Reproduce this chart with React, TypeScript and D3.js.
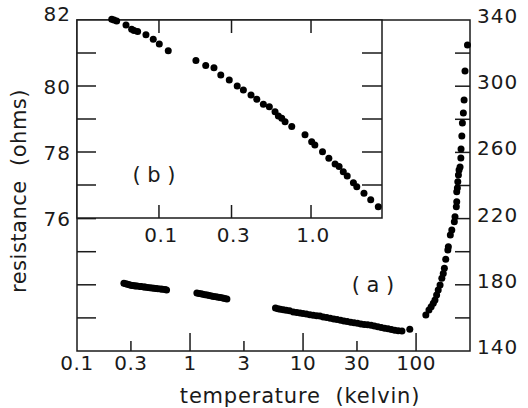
import { useEffect, useRef } from 'react';
import * as d3 from 'd3';

// curve (a): temperature (K) and resistance (ohms)
const mainT = [
    0.26, 0.27, 0.28, 0.29, 0.30, 0.31, 0.32, 0.33, 0.34, 0.36, 0.37, 0.39, 0.40, 0.42, 0.44, 0.46, 0.48, 0.50,
    0.52, 0.55, 0.57, 0.60, 0.62,
    1.15, 1.2, 1.25, 1.3, 1.36, 1.42, 1.48, 1.55, 1.62, 1.7, 1.78, 1.86, 1.95, 2.03, 2.12,
    5.7, 6.0, 6.3, 6.7, 7.1, 7.6, 8.2, 8.8, 9.4, 10.0, 10.7, 11.5, 12.3, 13.2, 14.1, 15.1, 16.2, 17.4, 18.7, 20.0,
    21.5, 23.0, 24.6, 26.4, 28.3, 30.3, 32.5, 34.8, 37.3, 40.0, 42.8, 45.9, 49.2, 52.7, 56.5, 60.5, 64.8, 69.5,
    75, 88,
    122, 130, 136, 142, 147, 152, 157, 163, 169, 174, 178, 183, 191, 193, 201, 207, 218, 221, 227, 229, 229, 232,
    234, 237, 240, 245, 249, 250, 254, 257, 262, 266, 271, 285,
];
const mainR = [
    181.0, 180.6, 180.3, 180.0, 179.8, 179.6, 179.5, 179.3, 179.2, 179.0, 178.9, 178.7, 178.6, 178.4, 178.2, 178.0,
    177.9, 177.7, 177.6, 177.4, 177.3, 177.1, 176.9,
    175.0, 174.8, 174.6, 174.3, 174.0, 173.8, 173.5, 173.3, 173.0, 172.8, 172.5, 172.3, 172.0, 171.7, 171.4,
    166.0, 165.6, 165.3, 165.0, 164.6, 164.3, 163.6, 163.3, 163.0, 162.6, 162.3, 161.9, 161.6, 161.3, 161.1, 160.6,
    160.2, 159.8, 159.4, 159.0, 158.6, 158.1, 157.8, 157.4, 157.0, 156.7, 156.3, 156.0, 155.8, 155.5, 155.1, 154.6,
    154.2, 153.8, 153.4, 153.0, 152.6, 152.3, 152.1, 153.2,
    161.8, 164.8, 166.8, 168.8, 170.8, 173.8, 176.9, 179.9, 183.9, 186.9, 190.0, 195.4, 201.0, 203.0, 210.1, 213.1,
    218.1, 221.1, 227.2, 230.2, 236.2, 238.5, 242.3, 246.3, 249.4, 251.2, 256.6, 262.0, 269.9, 277.8, 283.8, 291.7,
    309.2, 324.9,
];

// inset (b)
const insetT = [
    0.0489, 0.0506, 0.0527, 0.0607, 0.0661, 0.0685, 0.0724, 0.0821, 0.0917, 0.1005, 0.1151,
    0.175, 0.203, 0.230, 0.255, 0.290, 0.327, 0.359, 0.403, 0.440, 0.486, 0.532, 0.580, 0.610, 0.642, 0.675, 0.747,
    0.913, 1.01, 1.06, 1.19, 1.31, 1.44, 1.53, 1.63, 1.73, 1.90, 2.0, 2.23, 2.47, 2.77,
];
const insetR = [
    82.02, 82.0, 81.97, 81.85, 81.72, 81.68, 81.65, 81.55, 81.42, 81.27, 81.07,
    80.77, 80.62, 80.55, 80.33, 80.18, 80.0, 79.88, 79.73, 79.6, 79.45, 79.37, 79.22, 79.09, 79.02, 78.92, 78.77,
    78.52, 78.31, 78.21, 78.01, 77.81, 77.64, 77.56, 77.4, 77.27, 77.07, 76.95, 76.75, 76.55, 76.34,
];

const xTicks = [0.1, 0.3, 1, 3, 10, 30, 100];
const xTickLabels = ['0.1', '0.3', '1', '3', '10', '30', '100'];
const yTicks = [140, 160, 180, 200, 220, 240, 260, 280, 300, 320, 340];
const yTickLabels = [140, 180, 220, 260, 300, 340];
const insetXTicks = [0.1, 0.3, 1.0];
const insetXTickLabels = ['0.1', '0.3', '1.0'];
const insetYTicks = [76, 77, 78, 79, 80, 81, 82];
const insetYTickLabels = [76, 78, 80, 82];

const W = 528;
const H = 408;
const FONT = '"DejaVu Sans", sans-serif';
const INK = '#1a1a1a';

const App = () => {
    const svgRef = useRef<SVGSVGElement>(null);

    useEffect(() => {
        const svg = d3.select(svgRef.current);
        svg.selectAll('*').remove();

        const x = d3.scaleLog().domain([0.1, 300]).range([77, 470]);
        const y = d3.scaleLinear().domain([140, 340]).range([351, 20]);
        const xi = d3.scaleLog().domain([0.0289, 2.93]).range([77, 382]);
        const yi = d3.scaleLinear().domain([76, 82]).range([218, 20]);

        const [x0, x1] = x.range();
        const [y0, y1] = y.range();

        // main frame
        svg.append('rect')
            .attr('x', x0)
            .attr('y', y1)
            .attr('width', x1 - x0)
            .attr('height', y0 - y1)
            .attr('fill', 'none')
            .attr('stroke', INK)
            .attr('stroke-width', 1.5);

        // bottom ticks (decades longer)
        svg.selectAll('.xtick')
            .data(xTicks.slice(1))
            .enter()
            .append('line')
            .attr('x1', (d) => x(d))
            .attr('x2', (d) => x(d))
            .attr('y1', y0)
            .attr('y2', (d) => y0 - (Number.isInteger(Math.log10(d)) ? 18 : 10))
            .attr('stroke', INK)
            .attr('stroke-width', 1.5);

        svg.selectAll('.xlabel')
            .data(xTicks)
            .enter()
            .append('text')
            .attr('x', (d) => x(d))
            .attr('y', 370)
            .attr('text-anchor', 'middle')
            .attr('font-family', FONT)
            .attr('font-size', 20)
            .attr('letter-spacing', 0.5)
            .attr('fill', INK)
            .text((d, i) => xTickLabels[i]);

        // right axis
        svg.selectAll('.rtick')
            .data(yTicks.slice(1, -1))
            .enter()
            .append('line')
            .attr('x1', x1)
            .attr('x2', x1 - 15)
            .attr('y1', (d) => y(d))
            .attr('y2', (d) => y(d))
            .attr('stroke', INK)
            .attr('stroke-width', 1.5);

        svg.selectAll('.rlabel')
            .data(yTickLabels)
            .enter()
            .append('text')
            .attr('x', x1 + 7)
            .attr('y', (d) => y(d) - 4)
            .attr('dominant-baseline', 'central')
            .attr('font-family', FONT)
            .attr('font-size', 20)
            .attr('letter-spacing', 1)
            .attr('fill', INK)
            .text((d) => d);

        // left ticks of the main frame
        svg.selectAll('.ltick')
            .data(yTicks.slice(1, -1))
            .enter()
            .append('line')
            .attr('x1', x0)
            .attr('x2', x0 + 19)
            .attr('y1', (d) => y(d))
            .attr('y2', (d) => y(d))
            .attr('stroke', INK)
            .attr('stroke-width', 1.5);

        // inset box
        const [ix0, ix1] = xi.range();
        const [iy0, iy1] = yi.range();
        svg.append('rect')
            .attr('x', ix0)
            .attr('y', iy1)
            .attr('width', ix1 - ix0)
            .attr('height', iy0 - iy1)
            .attr('fill', '#fff')
            .attr('stroke', INK)
            .attr('stroke-width', 1.5);

        svg.selectAll('.itickx')
            .data(insetXTicks)
            .enter()
            .append('g')
            .each(function (d) {
                const g = d3.select(this);
                g.append('line')
                    .attr('x1', xi(d))
                    .attr('x2', xi(d))
                    .attr('y1', iy1)
                    .attr('y2', iy1 + 13)
                    .attr('stroke', INK)
                    .attr('stroke-width', 1.5);
                g.append('line')
                    .attr('x1', xi(d))
                    .attr('x2', xi(d))
                    .attr('y1', iy0)
                    .attr('y2', iy0 - 13)
                    .attr('stroke', INK)
                    .attr('stroke-width', 1.5);
            });

        svg.selectAll('.ilabelx')
            .data(insetXTicks)
            .enter()
            .append('text')
            .attr('x', (d) => xi(d) + 2)
            .attr('y', 242)
            .attr('text-anchor', 'middle')
            .attr('font-family', FONT)
            .attr('font-size', 20)
            .attr('letter-spacing', 0.5)
            .attr('fill', INK)
            .text((d, i) => insetXTickLabels[i]);

        svg.selectAll('.iticky')
            .data(insetYTicks.slice(1, -1))
            .enter()
            .append('g')
            .each(function (d) {
                const g = d3.select(this);
                g.append('line')
                    .attr('x1', ix0)
                    .attr('x2', ix0 + 19)
                    .attr('y1', yi(d))
                    .attr('y2', yi(d))
                    .attr('stroke', INK)
                    .attr('stroke-width', 1.5);
                g.append('line')
                    .attr('x1', ix1)
                    .attr('x2', ix1 - 20)
                    .attr('y1', yi(d))
                    .attr('y2', yi(d))
                    .attr('stroke', INK)
                    .attr('stroke-width', 1.5);
            });

        svg.selectAll('.ilabely')
            .data(insetYTickLabels)
            .enter()
            .append('text')
            .attr('x', ix0 - 6)
            .attr('y', (d) => yi(d) + (d === 82 ? -6 : 1))
            .attr('text-anchor', 'end')
            .attr('dominant-baseline', 'central')
            .attr('font-family', FONT)
            .attr('font-size', 20)
            .attr('letter-spacing', 1)
            .attr('fill', INK)
            .text((d) => d);

        // data points
        svg.selectAll('.dot')
            .data(mainT)
            .enter()
            .append('circle')
            .attr('cx', (d) => x(d))
            .attr('cy', (d, i) => y(mainR[i]))
            .attr('r', 3.5)
            .attr('fill', '#000');

        svg.selectAll('.idot')
            .data(insetT)
            .enter()
            .append('circle')
            .attr('cx', (d) => xi(d))
            .attr('cy', (d, i) => yi(insetR[i]))
            .attr('r', 3.5)
            .attr('fill', '#000');

        // panel labels
        svg.append('text')
            .attr('x', 373)
            .attr('y', 285)
            .attr('text-anchor', 'middle')
            .attr('dominant-baseline', 'central')
            .attr('font-family', FONT)
            .attr('font-size', 21)
            .attr('fill', INK)
            .text('( a )');

        svg.append('text')
            .attr('x', 154)
            .attr('y', 175)
            .attr('text-anchor', 'middle')
            .attr('dominant-baseline', 'central')
            .attr('font-family', FONT)
            .attr('font-size', 21)
            .attr('fill', INK)
            .text('( b )');

        // axis titles
        svg.append('text')
            .attr('x', 300)
            .attr('y', 403)
            .attr('text-anchor', 'middle')
            .attr('font-family', FONT)
            .attr('font-size', 21)
            .attr('letter-spacing', 0.8)
            .attr('fill', INK)
            .attr('xml:space', 'preserve')
            .style('white-space', 'pre')
            .text('temperature  (kelvin)');

        svg.append('text')
            .attr('transform', 'translate(19,191) rotate(-90)')
            .attr('text-anchor', 'middle')
            .attr('dominant-baseline', 'central')
            .attr('font-family', FONT)
            .attr('font-size', 21)
            .attr('letter-spacing', 0.5)
            .attr('fill', INK)
            .style('white-space', 'pre')
            .text('resistance  (ohms)');
    }, []);

    return (
        <div>
            <svg
                ref={svgRef}
                width={W}
                height={H}
                style={{ position: 'absolute', left: 0, top: 0, background: '#fff' }}
            ></svg>
        </div>
    );
};

export default App;
